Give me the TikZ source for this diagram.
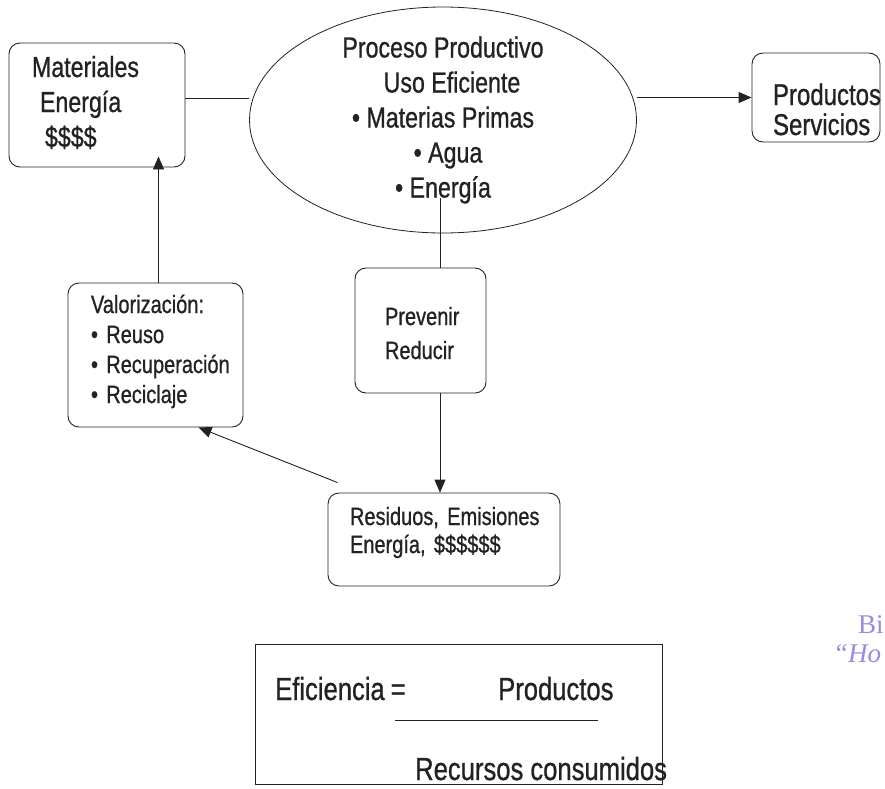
\documentclass[tikz,border=0pt]{standalone}
\usepackage{fontspec}
\setmainfont{Liberation Sans}[FakeStretch=0.8,FakeBold=0.8]
\newfontfamily\stampfont{Liberation Serif}
\usetikzlibrary{arrows.meta,shapes.geometric,calc}
\hyphenpenalty=10000
\exhyphenpenalty=10000
\definecolor{ink}{HTML}{222222}
\definecolor{stamp}{RGB}{150,140,225}

\begin{document}
\begin{tikzpicture}[x=1pt,y=-1pt,
  every node/.style={text=ink},
  box/.style={draw=ink, line width=0.9pt, rounded corners=11pt, inner ysep=0pt, align=left},
  link/.style={draw=ink, line width=0.9pt},
  arrow/.style={link, -{Triangle[length=13pt,width=11pt]}},
  plain/.style={anchor=base west, inner sep=0pt},
]
\useasboundingbox[fill=white] (0,0) rectangle (885,788);

% inputs
\node[box, minimum width=176pt, minimum height=124pt, inner xsep=23pt, text width=130pt,
      text height=34pt, text depth=90pt,
      font=\fontsize{29}{35}\selectfont] (mat) at (97,105)
  {Materiales\\\hspace*{8pt}Energía\\\hspace*{13pt}\$\$\$\$};

% production process
\node[draw=ink, line width=0.8pt, ellipse, minimum width=387pt, minimum height=226pt,
      inner sep=-10pt, align=center, font=\fontsize{29}{35}\selectfont] (proc) at (443,120)
  {Proceso Productivo\\\hspace*{18pt}Uso Eficiente\\\textbullet~Materias Primas\\\hspace*{10pt}\textbullet~Agua\\\textbullet~Energía};

% outputs
\node[box, minimum width=128pt, minimum height=89pt, inner xsep=21pt, text width=86pt,
      text height=52pt, text depth=37pt,
      font=\fontsize{30}{30}\selectfont] (prod) at (816,97.5)
  {\mbox{Productos}\\\mbox{Servicios}};

% recovery of wastes
\node[box, minimum width=175pt, minimum height=144pt, inner xsep=23pt, text width=129pt,
      text height=30pt, text depth=114pt,
      font=\fontsize{25}{30}\selectfont] (valo) at (155.5,355)
  {Valorización:\\\textbullet~Reuso\\\textbullet~Recuperación\\\textbullet~Reciclaje};

% prevention
\node[box, minimum width=131pt, minimum height=125pt, inner xsep=30pt, text width=71pt,
      text height=57pt, text depth=68pt,
      font=\fontsize{25}{34}\selectfont] (prev) at (420.5,330.5)
  {\mbox{Prevenir}\\\mbox{Reducir}};

% wastes
\node[box, minimum width=232pt, minimum height=93pt, inner xsep=22pt, text width=188pt,
      text height=32pt, text depth=61pt,
      font=\fontsize{25}{28}\selectfont] (resid) at (444,539.5)
  {\mbox{Residuos, Emisiones}\\\mbox{Energía, \$\$\$\$\$\$}};

% efficiency formula
\node[draw=ink, line width=0.9pt, minimum width=407pt, minimum height=140pt, inner sep=0pt] (eff) at (458.5,714) {};
\node[plain, font=\fontsize{32}{40}\selectfont] (eq) at (275,700) {Eficiencia\hspace{6pt}=};
\node[plain, font=\fontsize{32}{40}\selectfont] (num) at (498,700) {Productos};
\node[plain, font=\fontsize{32}{40}\selectfont] (den) at (415,780) {Recursos consumidos};
\draw[link] (395,720) -- (598,720);

% library stamp
\node[plain, text=stamp, font=\stampfont\fontsize{27}{27}\selectfont] (stampa) at (858,633) {Bi};
\node[plain, text=stamp, font=\stampfont\itshape\fontsize{27}{27}\selectfont] (stampb) at (833,662) {“Ho};

% connectors
\draw[link] ([yshift=7pt]mat.east) -- ([yshift=7pt]mat.east -| proc.west);
\draw[arrow] (prod.west -| proc.east) -- (prod.west);
\coordinate (stem) at (440,198);
\draw[link] (stem) -- (stem |- prev.north);
\draw[arrow] (stem |- prev.south) -- (stem |- resid.north);
\draw[arrow] ([shift={(10pt,10pt)}]resid.north west) -- ([xshift=43pt]valo.south);
\draw[arrow, shorten >=-11pt] ([xshift=3pt]valo.north) -- ([xshift=3pt]valo.north |- mat.south);
\end{tikzpicture}
\end{document}
